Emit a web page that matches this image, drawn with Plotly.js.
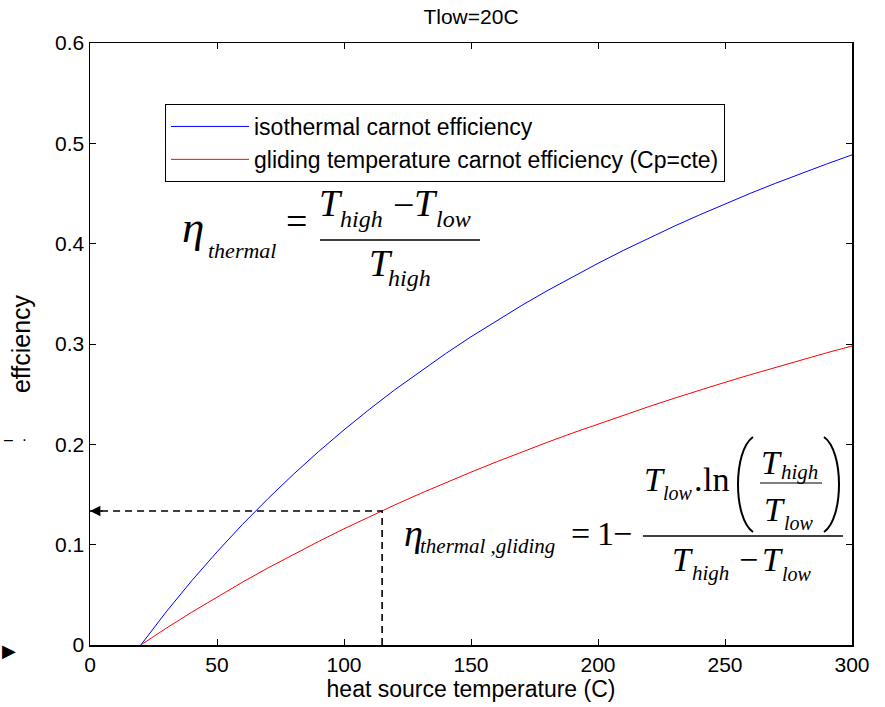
<!DOCTYPE html>
<html>
<head>
<meta charset="utf-8">
<script src="https://cdn.plot.ly/plotly-3.0.1.min.js"></script>
<style>
html,body{margin:0;padding:0;background:#fff;}
#chart{width:885px;height:707px;}
</style>
</head>
<body>
<div id="chart"></div>
<script>
// ---- data ----
const tempC = [20, 25, 30, 40, 50, 60, 70, 80, 90, 100, 110, 120, 130, 140, 150, 160, 170, 180, 190, 200, 210, 220, 230, 240, 250, 260, 270, 280, 290, 300];
const isothermalEff = [0, 0.0168, 0.0330, 0.0639, 0.0928, 0.1201, 0.1457, 0.1699, 0.1928, 0.2144, 0.2349, 0.2544, 0.2728, 0.2904, 0.3072, 0.3232, 0.3385, 0.3531, 0.3671, 0.3804, 0.3933, 0.4056, 0.4174, 0.4287, 0.4396, 0.4502, 0.4603, 0.4700, 0.4794, 0.4885];
const glidingEff = [0, 0.0084, 0.0167, 0.0326, 0.0479, 0.0626, 0.0767, 0.0902, 0.1032, 0.1158, 0.1279, 0.1396, 0.1509, 0.1618, 0.1723, 0.1825, 0.1924, 0.2020, 0.2113, 0.2203, 0.2291, 0.2376, 0.2459, 0.2540, 0.2618, 0.2694, 0.2769, 0.2841, 0.2912, 0.2980];
const guideX = [115, 115, 0];
const guideY = [0, 0.1335, 0.1335];
const seriesNames = ['isothermal carnot efficiency', 'gliding temperature carnot efficiency (Cp=cte)'];
const xTicks = [0, 50, 100, 150, 200, 250, 300];
const yTicks = [0, 0.1, 0.2, 0.3, 0.4, 0.5, 0.6];
const yTickText = ['0', '0.1', '0.2', '0.3', '0.4', '0.5', '0.6'];

// ---- layout helpers (pixel -> paper) ----
const L = 90, R = 852, T = 43, B = 645;
const px = v => (v - L) / (R - L);
const py = v => (B - v) / (B - T);
const SERIF = 'Liberation Serif, Times New Roman, serif';
const SANS = 'Liberation Sans, Arial, sans-serif';
const ann = [];
// text piece: left x, baseline y (pixels)
function piece(text, left, base, size, italic, anchor) {
  const t = italic ? '<i>' + text + '</i>' : text;
  ann.push({
    xref: 'paper', yref: 'paper', x: px(left), y: py(base - 0.42 * size),
    xanchor: anchor || 'left', yanchor: 'middle', showarrow: false,
    text: t, font: {family: SERIF, size: size, color: '#000'}, borderpad: 0
  });
}
// Equation 1
piece('η', 181, 246, 45, true);
piece('thermal', 207, 260, 22, true);
piece('=', 296, 237, 38, false, 'center');
piece('T', 318, 219, 38, true);
piece('high', 339, 229, 24, true);
piece('−', 403, 221, 38, false, 'center');
piece('T', 413, 219, 38, true);
piece('low', 435, 229, 24, true);
piece('T', 368, 279, 38, true);
piece('high', 387, 288, 24, true);
// Equation 2
piece('η', 403, 549, 38, true);
piece('thermal ,gliding', 419, 555, 21, true);
piece('=', 580, 548, 34, false, 'center');
piece('1', 596, 548, 34, false);
piece('−', 622, 548, 34, false, 'center');
piece('T', 643, 494, 34, true);
piece('low', 662, 501, 20, true);
piece('.', 693, 494, 34, false);
piece('ln', 702, 494, 34, false);
piece('T', 760, 477, 34, true);
piece('high', 780, 481, 21, true);
piece('T', 763, 524, 34, true);
piece('low', 783, 531, 20, true);
piece('T', 671, 574, 34, true);
piece('high', 691, 582, 21, true);
piece('−', 748, 574, 34, false, 'center');
piece('T', 761, 574, 34, true);
piece('low', 781, 582, 20, true);
// stray marks at left edge
ann.push({xref:'paper', yref:'paper', x: px(0), y: py(650), xanchor:'left', yanchor:'middle',
  showarrow:false, text:'▶', font:{family: 'DejaVu Sans', size:18, color:'#000'}});
ann.push({xref:'paper', yref:'paper', x: px(2), y: py(440), xanchor:'left', yanchor:'middle',
  showarrow:false, text:'–  ·', font:{family: SANS, size:16, color:'#000'}});
// arrowhead of guide line
ann.push({x: guideX[2], y: guideY[2], xref:'x', yref:'y', ax: 14, ay: 0, axref:'pixel', ayref:'pixel',
  text:'', showarrow:true, arrowhead:2, arrowsize:1.3, arrowwidth:1.6, arrowcolor:'#000'});

function hline(x0, x1, y, w) {
  return {type:'line', xref:'paper', yref:'paper', x0: px(x0), x1: px(x1), y0: py(y), y1: py(y),
    line:{color:'#000', width: w}};
}
function paren(xEnd, xCtrl, y0, y1) {
  const p = 'M' + px(xEnd) + ',' + py(y0) + ' C' + px(xCtrl) + ',' + py(y0 + 14) + ' ' +
    px(xCtrl) + ',' + py(y1 - 14) + ' ' + px(xEnd) + ',' + py(y1);
  return {type:'path', xref:'paper', yref:'paper', path: p, line:{color:'#000', width:2}};
}
const shapes = [
  hline(320, 480, 240, 1.6),
  hline(643, 843, 536, 1.4),
  hline(760, 822, 483, 1.2),
  paren(753, 733, 437, 532),
  paren(824, 844, 437, 532)
];

const traces = [
  {x: tempC, y: isothermalEff, type:'scatter', mode:'lines', name: seriesNames[0],
   line:{color:'#0000ff', width:1}},
  {x: tempC, y: glidingEff, type:'scatter', mode:'lines', name: seriesNames[1],
   line:{color:'#ff0000', width:1}},
  {x: guideX, y: guideY, type:'scatter', mode:'lines', showlegend:false, hoverinfo:'skip',
   line:{color:'#000', width:1.6, dash:'7px,5px'}}
];

const layout = {
  width: 885, height: 707,
  margin: {l: L, r: 885 - R, t: T, b: 707 - B, pad: 0},
  paper_bgcolor: '#fff', plot_bgcolor: '#fff',
  font: {family: SANS, size: 21, color: '#000'},
  title: {text: 'Tlow=20C', font: {family: SANS, size: 21, color:'#000'},
          xref: 'paper', x: 0.5, xanchor: 'center', yref: 'container', y: 1 - 17/707, yanchor: 'middle'},
  showlegend: true,
  legend: {x: px(165), y: py(104), xanchor: 'left', yanchor: 'top',
           bordercolor: '#000', borderwidth: 1, bgcolor: '#fff',
           font: {family: SANS, size: 23, color: '#000'}, itemwidth: 78, tracegroupgap: 0},
  xaxis: {range: [0, 300], tickvals: xTicks, ticks: 'inside', ticklen: 6, tickcolor: '#000',
          showline: true, linecolor: '#000', linewidth: 1.5, mirror: 'ticks', showgrid: false, zeroline: false,
          tickfont: {family: SANS, size: 21},
          title: {text: 'heat source temperature (C)', font: {family: SANS, size: 23}, standoff: 4}},
  yaxis: {range: [0, 0.6], tickvals: yTicks, ticktext: yTickText, ticks: 'inside', ticklen: 6, tickcolor: '#000',
          showline: true, linecolor: '#000', linewidth: 1.5, mirror: 'ticks', showgrid: false, zeroline: false,
          tickfont: {family: SANS, size: 21},
          title: {text: 'effciency', font: {family: SANS, size: 25}, standoff: 17}},
  annotations: ann,
  shapes: shapes
};
Plotly.newPlot('chart', traces, layout, {displayModeBar: false, staticPlot: true});
</script>
</body>
</html>
